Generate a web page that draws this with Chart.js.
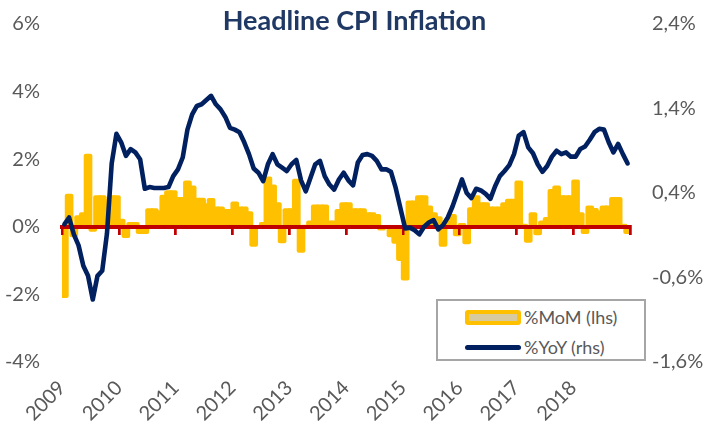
<!DOCTYPE html>
<html>
<head>
<meta charset="utf-8">
<script src="https://cdn.jsdelivr.net/npm/chart.js@4.4.1/dist/chart.umd.min.js"></script>
<style>
  html,body{margin:0;padding:0;background:#fff;}
  #wrap{position:relative;width:709px;height:427px;font-family:Lato,'Open Sans',sans-serif;}
  #title{position:absolute;left:0;top:3px;width:709px;text-align:center;font-weight:bold;font-size:27px;color:#1F3864;line-height:34px;}
  #legend{position:absolute;left:436px;top:299px;width:206px;height:58px;border:2px solid #A6A6A6;background:#fff;}
  #legend .row{position:absolute;left:27px;height:20px;display:flex;align-items:center;}
  #legend .sw{width:56px;height:15px;box-sizing:border-box;margin-right:3px;}
  #legend .txt{font-size:18px;color:#595959;white-space:nowrap;}
</style>
</head>
<body>
<div id="wrap">
  <canvas id="c" width="709" height="427"></canvas>
  <div id="title">Headline CPI Inflation</div>
  <div id="legend"></div>
</div>
<script>
const years = [2009,2010,2011,2012,2013,2014,2015,2016,2017,2018];
const leftTicks = [-4,-2,0,2,4,6];
const rightTicks = [-1.6,-0.6,0.4,1.4,2.4];

// %MoM, left axis, Jan 2009 .. Dec 2018
const mom = [
  -2.10,0.97,-0.30,0.33,0.42,2.15,-0.14,0.92,0.92,0.82,0.92,0.92,
  0.23,-0.32,0.13,0.13,-0.20,-0.20,0.54,0.54,0.47,0.94,1.07,1.07,
  0.87,0.87,1.36,1.21,0.85,0.85,0.69,0.84,0.59,0.59,0.52,0.52,
  0.74,0.59,0.59,0.45,-0.58,0.03,0.13,1.48,1.24,0.72,-0.48,0.54,
  0.54,1.41,-0.76,0.05,0.18,0.65,0.65,0.65,0.18,0.18,0.52,0.72,
  0.72,0.54,0.54,0.54,0.42,0.42,0.37,-0.10,0.03,-0.30,-0.49,-1.00,
  -1.58,0.77,0.77,0.92,0.92,0.62,0.42,0.30,-0.58,0.20,0.37,-0.27,
  0.10,-0.51,0.57,0.92,0.72,0.72,0.59,0.59,0.59,0.72,0.82,0.82,
  1.36,0.08,-0.46,0.42,-0.24,0.18,0.28,1.11,1.21,0.92,0.92,0.92,
  1.39,0.42,-0.20,0.62,0.55,0.47,0.62,0.62,0.87,0.87,0.08,-0.20
];
// %YoY, right axis
const yoy = [
  0.03,0.11,-0.09,-0.22,-0.46,-0.58,-0.86,-0.58,-0.52,-0.08,0.75,1.10,
  1.00,0.84,0.92,0.88,0.80,0.45,0.47,0.46,0.46,0.46,0.47,0.60,
  0.68,0.82,1.15,1.33,1.43,1.45,1.50,1.55,1.45,1.39,1.30,1.17,
  1.15,1.12,1.00,0.86,0.69,0.64,0.54,0.74,0.86,0.74,0.70,0.66,
  0.74,0.79,0.55,0.42,0.58,0.74,0.78,0.60,0.50,0.44,0.56,0.64,
  0.55,0.49,0.76,0.85,0.86,0.84,0.78,0.68,0.68,0.65,0.46,0.22,
  -0.02,-0.01,-0.04,-0.09,0.00,0.05,0.08,-0.03,0.02,0.11,0.24,0.40,
  0.56,0.40,0.34,0.45,0.43,0.39,0.33,0.48,0.60,0.66,0.73,0.86,
  1.08,1.12,0.94,0.87,0.74,0.65,0.72,0.83,0.90,0.86,0.88,0.83,
  0.83,0.92,0.95,1.03,1.12,1.16,1.15,1.00,0.88,0.98,0.86,0.75
];

const months = [];
years.forEach(y => { for (let m = 1; m <= 12; m++) months.push(y + '-' + String(m).padStart(2,'0')); });
const nMonths = months.length;

const grey = '#595959';
const red = '#C00000';
Chart.defaults.font.family = 'Lato, "Open Sans", sans-serif';
Chart.defaults.color = grey;

// red zero axis goes over the bars but under the YoY line
const zeroOnTop = {
  id: 'zeroOnTop',
  beforeDatasetDraw(chart, args) {
    if (args.index === 0) {
      const s = chart.scales.xZero;
      s.drawGrid(chart.chartArea);
      s.drawBorder();
    }
  }
};

// fixed axis widths, and no extra top/bottom room from the tick padding
const fitY = w => s => { s.width = w; s.paddingTop = 0; s.paddingBottom = 0; };

const chart = new Chart(document.getElementById('c'), {
  type: 'bar',
  data: {
    labels: months,
    datasets: [
      {type:'line', label:'%YoY (rhs)', data:yoy, yAxisID:'y2', borderColor:'#002060', borderWidth:4.6,
       pointRadius:0, tension:0, borderJoinStyle:'round', borderCapStyle:'round'},
      {type:'bar', label:'%MoM (lhs)', data:mom, yAxisID:'y', backgroundColor:'#FFC000', borderWidth:0,
       barThickness:8, borderRadius:2, clip:0}
    ]
  },
  options: {
    responsive: false,
    animation: false,
    devicePixelRatio: 1,
    layout: {padding: {top: 24, bottom: 0, left: 0, right: 0}},
    plugins: {legend: {display:false}, tooltip: {enabled:false}},
    scales: {
      x: {type:'category', offset:true, display:false, grid:{offset:true}},
      xl: {type:'linear', position:'bottom', min:0, max:nMonths, offset:false,
        afterBuildTicks: s => { s.ticks = years.map((y,k) => ({value:k*12})); },
        afterFit: s => { s.height = 65; },
        grid:{display:false, drawTicks:false, offset:false}, border:{display:false},
        ticks:{font:{size:20}, color:grey, minRotation:45, maxRotation:45, padding:14, autoSkip:false,
          callback:(v,i) => String(years[i])}},
      xZero: {type:'linear', position:{y:0}, min:0, max:nMonths, offset:false,
        afterBuildTicks: s => { s.ticks = years.map((y,k) => ({value:k*12})).concat([{value:nMonths}]); },
        afterFit: s => { s.height = 0; },
        grid:{drawOnChartArea:false, drawTicks:true, tickLength:6, color:red, lineWidth:2.5, offset:false},
        border:{color:red, width:4},
        ticks:{display:false}},
      y: {position:'left', min:-4, max:6,
        afterBuildTicks: s => { s.ticks = leftTicks.map(v => ({value:v})); },
        afterFit: fitY(62),
        grid:{display:false, drawTicks:false}, border:{display:false},
        ticks:{font:{size:20}, color:grey, padding:22, callback:v => v + '%'}},
      y2: {position:'right', min:-1.6, max:2.4,
        afterBuildTicks: s => { s.ticks = rightTicks.map(v => ({value:v})); },
        afterFit: fitY(79),
        grid:{display:false, drawTicks:false}, border:{display:false},
        ticks:{font:{size:20}, color:grey, padding:22, callback:v => v.toFixed(1).replace('.', ',') + '%'}}
    }
  },
  plugins: [zeroOnTop]
});

// html legend built from the datasets
const legendTops = [6, 36];
const legendOrder = [1, 0];
document.getElementById('legend').innerHTML = legendOrder.map((di, k) => {
  const ds = chart.data.datasets[di];
  const sw = ds.type === 'bar'
    ? `<div class="sw" style="border:4px solid ${ds.backgroundColor};border-radius:3px;background:#D6CA9E"></div>`
    : `<div class="sw" style="display:flex;align-items:center"><div style="width:56px;height:5px;border-radius:3px;background:${ds.borderColor}"></div></div>`;
  return `<div class="row" style="top:${legendTops[k]}px">${sw}<span class="txt">${ds.label}</span></div>`;
}).join('');
</script>
</body>
</html>
